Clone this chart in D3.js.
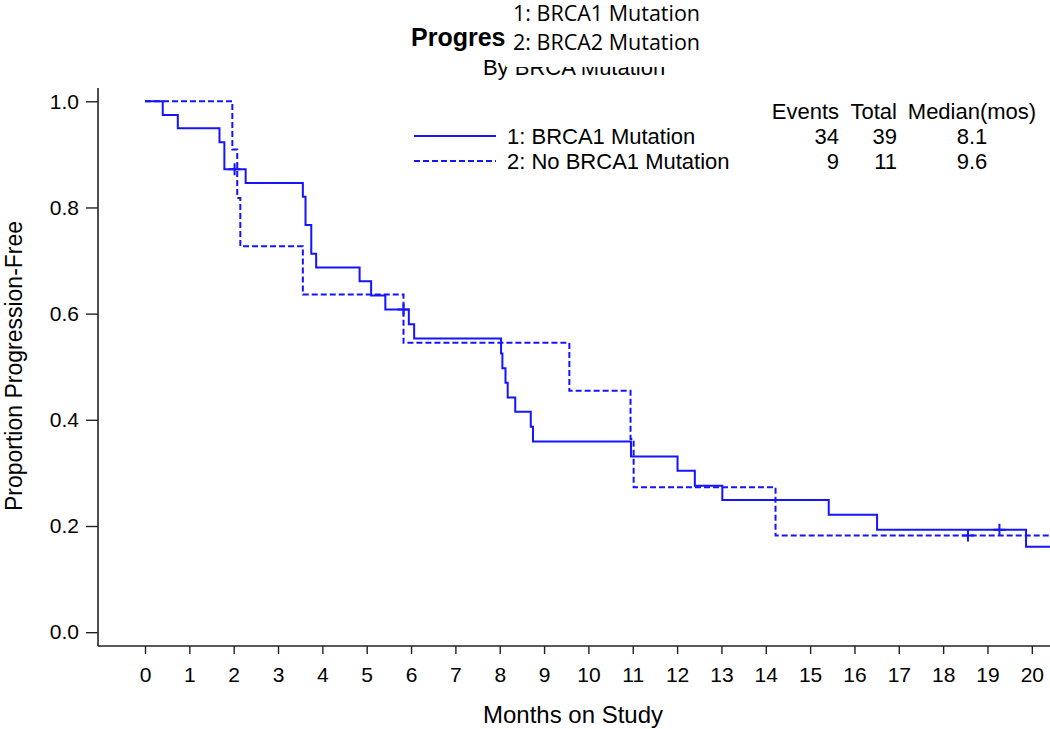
<!DOCTYPE html>
<html>
<head>
<meta charset="utf-8">
<script src="https://cdn.jsdelivr.net/npm/d3@7"></script>
<style>
  html, body { margin: 0; padding: 0; background: #fff; }
  svg { display: block; }
  text { font-family: "Liberation Sans", Arial, sans-serif; fill: #000; }
</style>
</head>
<body>
<svg id="chart" width="1050" height="729"></svg>
<script>
// ---------------- data ----------------
const xTickValues = [0,1,2,3,4,5,6,7,8,9,10,11,12,13,14,15,16,17,18,19,20];
const yTickValues = [0.0, 0.2, 0.4, 0.6, 0.8, 1.0];

const seriesNames = ["1: BRCA1 Mutation", "2: No BRCA1 Mutation"];
const seriesEvents = [34, 9];
const seriesTotals = [39, 11];
const seriesMedians = ["8.1", "9.6"];
const tableHeaders = ["Events", "Total", "Median(mos)"];

// BRCA1 Mutation (solid) : step times and survival after each step
const brca1Times = [0, 0.40, 0.74, 1.68, 1.79, 2.27, 3.56, 3.62, 3.75, 3.86, 4.84, 5.10, 5.42, 5.95, 6.07,
  8.03, 8.06, 8.13, 8.18, 8.35, 8.70, 8.75, 10.96, 12.01, 12.40, 13.02, 15.42, 16.51, 19.87];
const brca1Surv = [1.0, 0.974, 0.949, 0.923, 0.872, 0.846, 0.820, 0.767, 0.713, 0.687, 0.661, 0.634, 0.608, 0.580, 0.553,
  0.525, 0.497, 0.470, 0.442, 0.415, 0.387, 0.359, 0.331, 0.304, 0.276, 0.249, 0.221, 0.193, 0.161];
const brca1CensorTimes = [2.02, 5.83, 19.27];
const brca1CensorSurv = [0.872, 0.608, 0.193];

// No BRCA1 Mutation (dashed)
const noBrcaTimes = [0, 1.97, 2.08, 2.15, 3.56, 5.83, 9.57, 10.95, 11.02, 14.22];
const noBrcaSurv = [1.0, 0.909, 0.818, 0.727, 0.636, 0.545, 0.455, 0.364, 0.273, 0.182];
const noBrcaCensorTimes = [18.56];
const noBrcaCensorSurv = [0.182];

const titleText = "Progression-Free Survival";
const subtitleText = "By BRCA Mutation";
const overlayLines = ["1: BRCA1 Mutation", "2: BRCA2 Mutation"];

// ---------------- layout ----------------
const svg = d3.select("#chart");
const lineColor = "#1414ff";
const axisColor = "#222";

const xMin = -1.06, xMax = 20.41;
const x = d3.scaleLinear().domain([xMin, xMax]).range([98, 1050]);
const y = d3.scaleLinear().domain([-0.026, 1.025]).range([646, 88]);

// axes
const yAxis = d3.axisLeft(y).tickValues(yTickValues).tickFormat(d3.format(".1f")).tickSize(12).tickPadding(7);
const gy = svg.append("g").attr("transform", `translate(${x(xMin)},0)`).call(yAxis);
const xAxis = d3.axisBottom(x).tickValues(xTickValues).tickFormat(d3.format("d")).tickSize(8).tickPadding(13);
const gx = svg.append("g").attr("transform", `translate(0,${y(-0.026)})`).call(xAxis);
[gx, gy].forEach(g => {
  g.select(".domain").attr("stroke", axisColor).attr("stroke-width", 1.6);
  g.selectAll(".tick line").attr("stroke", axisColor).attr("stroke-width", 1.4);
  g.selectAll(".tick text").attr("font-family", '"Liberation Sans", Arial, sans-serif')
    .attr("font-size", 21).attr("fill", "#000");
});
gy.select(".domain").attr("d", `M0,${y(1.025)}V${y(-0.026)}`);
gx.select(".domain").attr("d", `M${x(xMin)},0H${x(xMax)}`);

// axis titles
svg.append("text").attr("x", 573).attr("y", 723).attr("text-anchor", "middle")
  .attr("font-size", 24).text("Months on Study");
svg.append("text").attr("transform", "translate(22,366) rotate(-90)").attr("text-anchor", "middle")
  .attr("font-size", 23).text("Proportion Progression-Free");

// curves
const line = d3.line().x(d => x(d[0])).y(d => y(d[1])).curve(d3.curveStepAfter);
function stepPoints(times, surv) {
  const pts = times.map((t, i) => [t, surv[i]]);
  pts.push([xMax, surv[surv.length - 1]]);
  return pts;
}
const curves = [
  { pts: stepPoints(brca1Times, brca1Surv), dash: null, ct: brca1CensorTimes, cs: brca1CensorSurv },
  { pts: stepPoints(noBrcaTimes, noBrcaSurv), dash: "6,3", ct: noBrcaCensorTimes, cs: noBrcaCensorSurv }
];
curves.forEach(c => {
  svg.append("path").datum(c.pts).attr("d", line).attr("fill", "none")
    .attr("stroke", lineColor).attr("stroke-width", 2).attr("stroke-dasharray", c.dash);
  const cens = c.ct.map((t, i) => [t, c.cs[i]]);
  svg.selectAll(null).data(cens).enter().append("path")
    .attr("d", d => `M${x(d[0]) - 6},${y(d[1])}H${x(d[0]) + 6}M${x(d[0])},${y(d[1]) - 6}V${y(d[1]) + 6}`)
    .attr("stroke", lineColor).attr("stroke-width", 2).attr("fill", "none");
});

// legend table
const rowY = [136, 161];
const legend = svg.append("g");
legend.append("text").attr("x", 839).attr("y", 119).attr("text-anchor", "end").attr("font-size", 22).text(tableHeaders[0]);
legend.append("text").attr("x", 897).attr("y", 119).attr("text-anchor", "end").attr("font-size", 22).text(tableHeaders[1]);
legend.append("text").attr("x", 972).attr("y", 119).attr("text-anchor", "middle").attr("font-size", 22).text(tableHeaders[2]);
seriesNames.forEach((name, i) => {
  legend.append("line").attr("x1", 414).attr("x2", 496).attr("y1", rowY[i]).attr("y2", rowY[i])
    .attr("stroke", lineColor).attr("stroke-width", 2).attr("stroke-dasharray", curves[i].dash);
  legend.append("text").attr("x", 507).attr("y", rowY[i] + 8).attr("font-size", 22).text(name);
  legend.append("text").attr("x", 839).attr("y", rowY[i] + 8).attr("text-anchor", "end").attr("font-size", 22).text(seriesEvents[i]);
  legend.append("text").attr("x", 897).attr("y", rowY[i] + 8).attr("text-anchor", "end").attr("font-size", 22).text(seriesTotals[i]);
  legend.append("text").attr("x", 972).attr("y", rowY[i] + 8).attr("text-anchor", "middle").attr("font-size", 22).text(seriesMedians[i]);
});

// title, subtitle, and the overlaid label box
svg.append("text").attr("x", 411).attr("y", 46).attr("font-size", 25).attr("font-weight", "bold").text(titleText);
svg.append("text").attr("x", 483).attr("y", 75).attr("font-size", 22).text(subtitleText);
svg.append("rect").attr("x", 506).attr("y", 0).attr("width", 240).attr("height", 67).attr("fill", "#fff");
overlayLines.forEach((t, i) => {
  svg.append("text").attr("x", 513).attr("y", 21 + i * 29).attr("font-size", 21.5)
    .style("font-family", '"Open Sans", sans-serif').text(t);
});
</script>
</body>
</html>
